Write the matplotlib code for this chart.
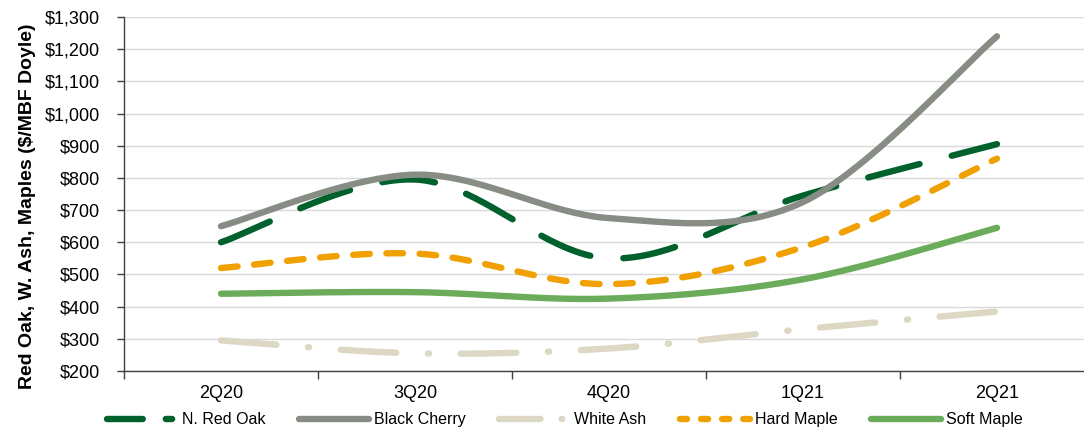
import numpy as np
import matplotlib
matplotlib.use("Agg")
import matplotlib.pyplot as plt
from matplotlib.lines import Line2D
from matplotlib.ticker import FuncFormatter, FixedLocator

quarters = ["2Q20", "3Q20", "4Q20", "1Q21", "2Q21"]
red_oak = [600, 795, 550, 745, 905]
black_cherry = [650, 810, 675, 725, 1240]
white_ash = [295, 255, 270, 330, 385]
hard_maple = [520, 565, 470, 585, 860]
soft_maple = [440, 445, 425, 485, 645]

plt.rcParams["font.family"] = ["Liberation Sans", "DejaVu Sans"]


def smooth(xs, ys, n=40):
    """Catmull-Rom style Bezier smoothing through the given points."""
    p = np.column_stack([xs, ys]).astype(float)
    pts = []
    for i in range(len(p) - 1):
        p0 = p[i - 1] if i > 0 else p[i]
        p1, p2 = p[i], p[i + 1]
        p3 = p[i + 2] if i + 2 < len(p) else p[i + 1]
        c1 = p1 + (p2 - p0) / 6.0
        c2 = p2 - (p3 - p1) / 6.0
        t = np.linspace(0, 1, n)[:, None]
        seg = ((1 - t) ** 3) * p1 + 3 * ((1 - t) ** 2) * t * c1 + 3 * (1 - t) * t ** 2 * c2 + t ** 3 * p2
        pts.append(seg if i == 0 else seg[1:])
    s = np.vstack(pts)
    return s[:, 0], s[:, 1]


W, H = 1084, 432
fig = plt.figure(figsize=(W / 100, H / 100), dpi=100)
ax = fig.add_axes([124 / W, 61 / H, 1 - 124 / W, (371 - 17) / H])

x = np.arange(len(quarters))
lw = 4.6
# name, values, colour, line style on the chart, line style on the legend key
series = [
    ("N. Red Oak", red_oak, "#00612d", (0, (8.3, 5.2)), (0, (5.6, 3.6, 1.0, 10))),
    ("Black Cherry", black_cherry, "#878c84", "-", "-"),
    ("White Ash", white_ash, "#ddd8c3", (0, (8.7, 4.95, 0.2, 4.95)), (0, (6.5, 3.3, 0.1, 10))),
    ("Hard Maple", hard_maple, "#f0a000", (0, (2.6, 2.6)), (0, (1.1, 2.2))),
    ("Soft Maple", soft_maple, "#6aac5a", "-", "-"),
]
order = [4, 2, 3, 0, 1]
for idx in order:
    name, vals, color, ls, _ = series[idx]
    sx, sy = smooth(x, vals)
    ax.plot(sx, sy, color=color, lw=lw, linestyle=ls,
            dash_capstyle="round", solid_capstyle="round", zorder=3 + idx * 0.1)

ax.yaxis.set_major_locator(FixedLocator(np.arange(200, 1301, 100)))
ax.yaxis.set_major_formatter(FuncFormatter(lambda v, p: f"${v:,.0f}"))
ax.grid(axis="y", color="#d9d9d9", lw=1.0, zorder=0)
ax.set_axisbelow(True)

ax.set_xticks(x)
ax.set_xticklabels(quarters)
ax.set_xticks(np.arange(-0.5, len(quarters) + 0.5, 1.0), minor=True)
ax.tick_params(axis="x", which="major", length=0, pad=10, labelsize=13, colors="#000000")
ax.tick_params(axis="x", which="minor", length=6, width=1, color="#404040", direction="out")
ax.tick_params(axis="y", length=5, width=1, color="#404040", labelsize=13, pad=12)

ax.set_ylim(200, 1300)
ax.set_xlim(-0.5, (W - 124) / 194.0 - 0.5)

for s in ["top", "right"]:
    ax.spines[s].set_visible(False)
for s in ["left", "bottom"]:
    ax.spines[s].set_color("#404040")
    ax.spines[s].set_linewidth(1.0)

ax.set_ylabel("Red Oak, W. Ash, Maples ($/MBF Doyle)", fontsize=14, fontweight="bold")
ax.yaxis.set_label_coords(-0.092, 0.465)

keys = [Line2D([], [], color=c, lw=lw, linestyle=lk, dash_capstyle="round",
               solid_capstyle="round") for _, _, c, _, lk in series]
fig.legend(keys, [s[0] for s in series], loc="center", bbox_to_anchor=(0.521, 0.028),
           ncol=5, frameon=False, fontsize=11.5, handlelength=4.4, columnspacing=2.1,
           handletextpad=0.3)

fig.savefig("out.png", dpi=100)
